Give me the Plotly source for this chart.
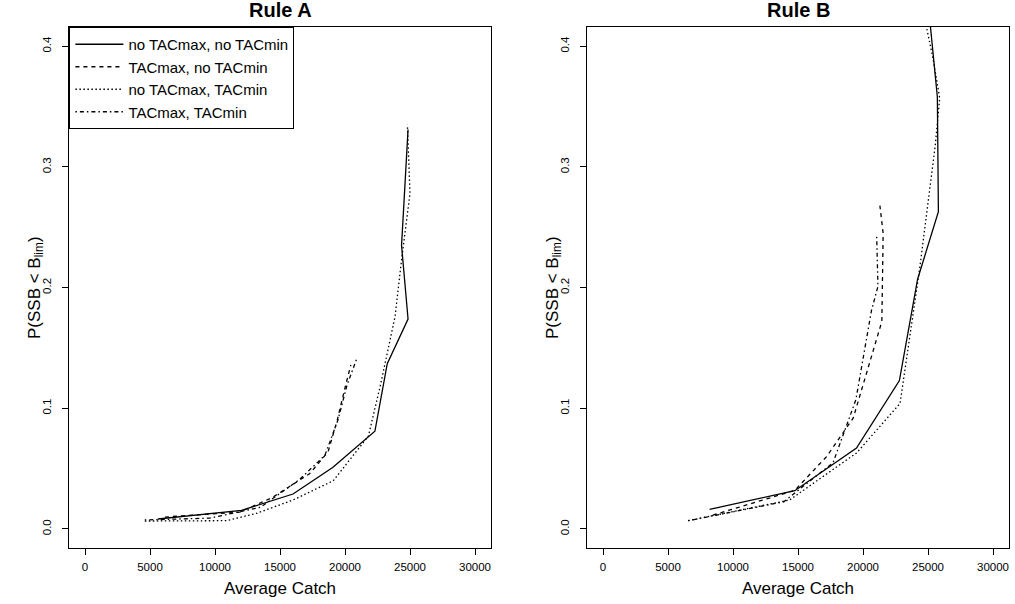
import plotly.graph_objects as go

# ---------------- data ----------------
series_names = ["no TACmax, no TACmin", "TACmax, no TACmin",
                "no TACmax, TACmin", "TACmax, TACmin"]

# Rule A
ruleA_solid_catch = [5600, 12050, 16000, 19050, 22300, 23250, 24850, 24350, 24850]
ruleA_solid_p = [0.0083, 0.0155, 0.029, 0.051, 0.081, 0.137, 0.174, 0.235, 0.331]

ruleA_dashed_catch = [6150, 11900, 14400, 17300, 18700, 19400, 20000, 20450]
ruleA_dashed_p = [0.0099, 0.014, 0.026, 0.046, 0.064, 0.090, 0.117, 0.136]

ruleA_dotted_catch = [4600, 10900, 13200, 16000, 19100, 21800, 22700, 23850, 24350, 25000, 24800]
ruleA_dotted_p = [0.0066, 0.0069, 0.013, 0.024, 0.040, 0.077, 0.118, 0.176, 0.223, 0.278, 0.335]

ruleA_dotdash_catch = [4600, 9600, 13500, 16500, 18450, 19450, 20150, 20900]
ruleA_dotdash_p = [0.0075, 0.009, 0.018, 0.041, 0.061, 0.090, 0.119, 0.141]

# Rule B
ruleB_solid_catch = [8200, 14750, 19500, 22800, 24200, 25800, 25720, 25200, 24880]
ruleB_solid_p = [0.0163, 0.0317, 0.067, 0.123, 0.207, 0.263, 0.358, 0.416, 0.45]

ruleB_dashed_catch = [8450, 14750, 17200, 19250, 21450, 21550, 21300]
ruleB_dashed_p = [0.0115, 0.032, 0.060, 0.092, 0.172, 0.245, 0.268]

ruleB_dotted_catch = [6550, 14350, 19500, 22850, 24350, 25550, 25900, 25400, 24900, 24600]
ruleB_dotted_p = [0.0069, 0.024, 0.063, 0.104, 0.215, 0.317, 0.357, 0.389, 0.415, 0.44]

ruleB_dotdash_catch = [6550, 13900, 17700, 19450, 20650, 21150, 21050]
ruleB_dotdash_p = [0.0069, 0.0225, 0.055, 0.107, 0.181, 0.201, 0.2436]

x_ticks = [0, 5000, 10000, 15000, 20000, 25000, 30000]
y_ticks = [0.0, 0.1, 0.2, 0.3, 0.4]
y_ticklabels = ["0.0", "0.1", "0.2", "0.3", "0.4"]
panel_titles = ["Rule A", "Rule B"]
x_title = "Average Catch"
y_title = "P(SSB < B<sub>lim</sub>)"

# ---------------- styling ----------------
FONT = "Liberation Sans, Arial, Helvetica, sans-serif"
dashes = ["solid", "4px,4px", "1.5px,2.5px", "1.5px,3px,4px,3px"]

panels = [
    [(ruleA_solid_catch, ruleA_solid_p), (ruleA_dashed_catch, ruleA_dashed_p),
     (ruleA_dotted_catch, ruleA_dotted_p), (ruleA_dotdash_catch, ruleA_dotdash_p)],
    [(ruleB_solid_catch, ruleB_solid_p), (ruleB_dashed_catch, ruleB_dashed_p),
     (ruleB_dotted_catch, ruleB_dotted_p), (ruleB_dotdash_catch, ruleB_dotdash_p)],
]

W, H = 1015, 604
x_domains = [[69.4 / W, 490.6 / W], [587.4 / W, 1008.6 / W]]
y_domain = [(H - 548.3) / H, (H - 27) / H]

fig = go.Figure()
for pi, panel in enumerate(panels):
    xa = "x" if pi == 0 else "x2"
    ya = "y" if pi == 0 else "y2"
    for si, (cx, py) in enumerate(panel):
        fig.add_trace(go.Scatter(
            x=cx, y=py, mode="lines", xaxis=xa, yaxis=ya,
            name=series_names[si], showlegend=(pi == 0),
            line=dict(color="black", width=1.3, dash=dashes[si]),
            hoverinfo="skip"))

axis_common = dict(showgrid=False, zeroline=False, showline=True, linecolor="black",
                   linewidth=1, mirror=True, ticks="outside", ticklen=6,
                   tickcolor="black", tickwidth=1,
                   tickfont=dict(family=FONT, size=11.5, color="black"))

layout = dict(
    width=W, height=H, margin=dict(l=0, r=0, t=0, b=0),
    paper_bgcolor="white", plot_bgcolor="white",
    font=dict(family=FONT, color="black"),
    legend=dict(x=x_domains[0][0], y=y_domain[1], xanchor="left", yanchor="top",
                bordercolor="black", borderwidth=1, bgcolor="white",
                font=dict(family=FONT, size=15, color="black"),
                itemwidth=48, tracegroupgap=0),
    showlegend=True,
    hovermode=False,
)
for pi in range(2):
    sx = "" if pi == 0 else "2"
    layout["xaxis" + sx] = dict(axis_common, domain=x_domains[pi], range=[-1200, 31200],
                                tickvals=x_ticks, ticktext=[str(v) for v in x_ticks],
                                anchor="y" + sx, ticklabelstandoff=2,
                                title=dict(text=x_title, font=dict(family=FONT, size=17),
                                           standoff=10))
    layout["yaxis" + sx] = dict(axis_common, domain=y_domain, range=[-0.016, 0.416],
                                tickvals=y_ticks, ticktext=y_ticklabels, tickangle=-90,
                                anchor="x" + sx, ticklabelstandoff=7)
fig.update_layout(**layout)

for pi in range(2):
    fig.add_annotation(text="<b>" + panel_titles[pi] + "</b>", xref="paper", yref="paper",
                       x=sum(x_domains[pi]) / 2, y=1 - 10 / H, xanchor="center",
                       yanchor="middle", showarrow=False,
                       font=dict(family=FONT, size=20, color="black"))
    fig.add_annotation(text=y_title, xref="paper", yref="paper",
                       x=(x_domains[pi][0] * W - 34) / W, y=sum(y_domain) / 2,
                       xanchor="center", yanchor="middle", textangle=-90,
                       showarrow=False, font=dict(family=FONT, size=17, color="black"))

fig.write_html("out.html", config={"displayModeBar": False},
               post_script="document.body.style.margin='0px';")
